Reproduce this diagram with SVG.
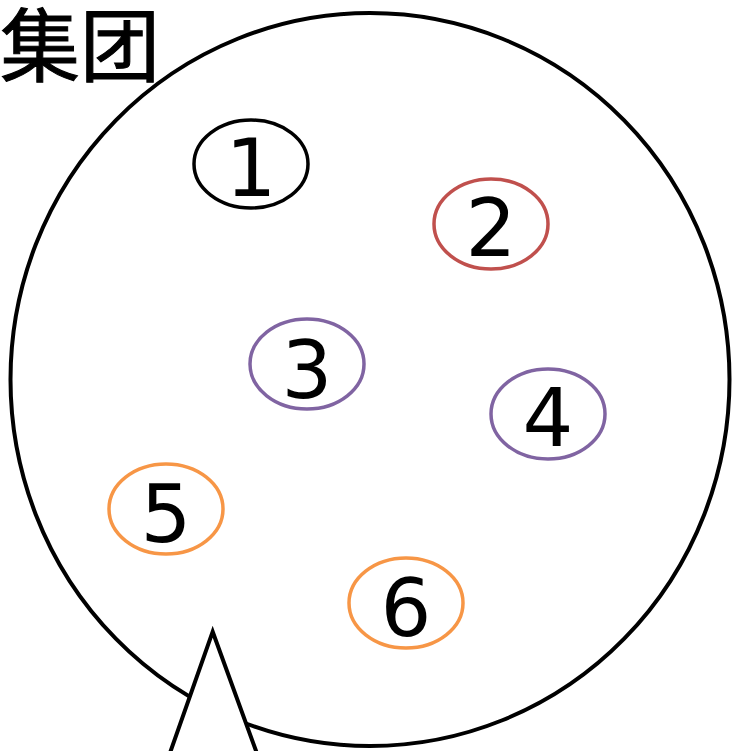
<svg xmlns="http://www.w3.org/2000/svg" width="732" height="751" viewBox="0 0 732 751">
<style>
.node ellipse{fill:#fff;stroke-width:3.5}
.num{font-family:"DejaVu Sans",sans-serif;font-size:80px;fill:#000;text-anchor:middle}
.title{font-family:"Noto Sans CJK SC",sans-serif;font-size:80px;fill:#000;stroke:#000;stroke-width:1}
</style>
<rect width="732" height="751" fill="#fff"/>
<g id="group">
<ellipse cx="370" cy="379.5" rx="359.5" ry="366.5" fill="#fff" stroke="#000" stroke-width="4"/>
<text class="title" x="0" y="75">集团</text>
</g>
<g id="n1" class="node"><ellipse cx="251" cy="164" rx="57" ry="44" stroke="#000"/><text class="num" x="251" y="196">1</text></g>
<g id="n2" class="node"><ellipse cx="491" cy="224" rx="57" ry="45" stroke="#C0504D"/><text class="num" x="491" y="256">2</text></g>
<g id="n3" class="node"><ellipse cx="307" cy="364" rx="57" ry="45" stroke="#8064A2"/><text class="num" x="307" y="398">3</text></g>
<g id="n4" class="node"><ellipse cx="548" cy="414" rx="57" ry="45" stroke="#8064A2"/><text class="num" x="548" y="446">4</text></g>
<g id="n5" class="node"><ellipse cx="166" cy="509" rx="57" ry="45" stroke="#F79646"/><text class="num" x="166" y="542">5</text></g>
<g id="n6" class="node"><ellipse cx="406" cy="603" rx="57" ry="45" stroke="#F79646"/><text class="num" x="406" y="636">6</text></g>
<g id="connectors">
<polygon points="212.7,631.7 153.4,800 273.9,800" fill="#fff" stroke="#000" stroke-width="4" stroke-linejoin="miter"/>
</g>
</svg>
